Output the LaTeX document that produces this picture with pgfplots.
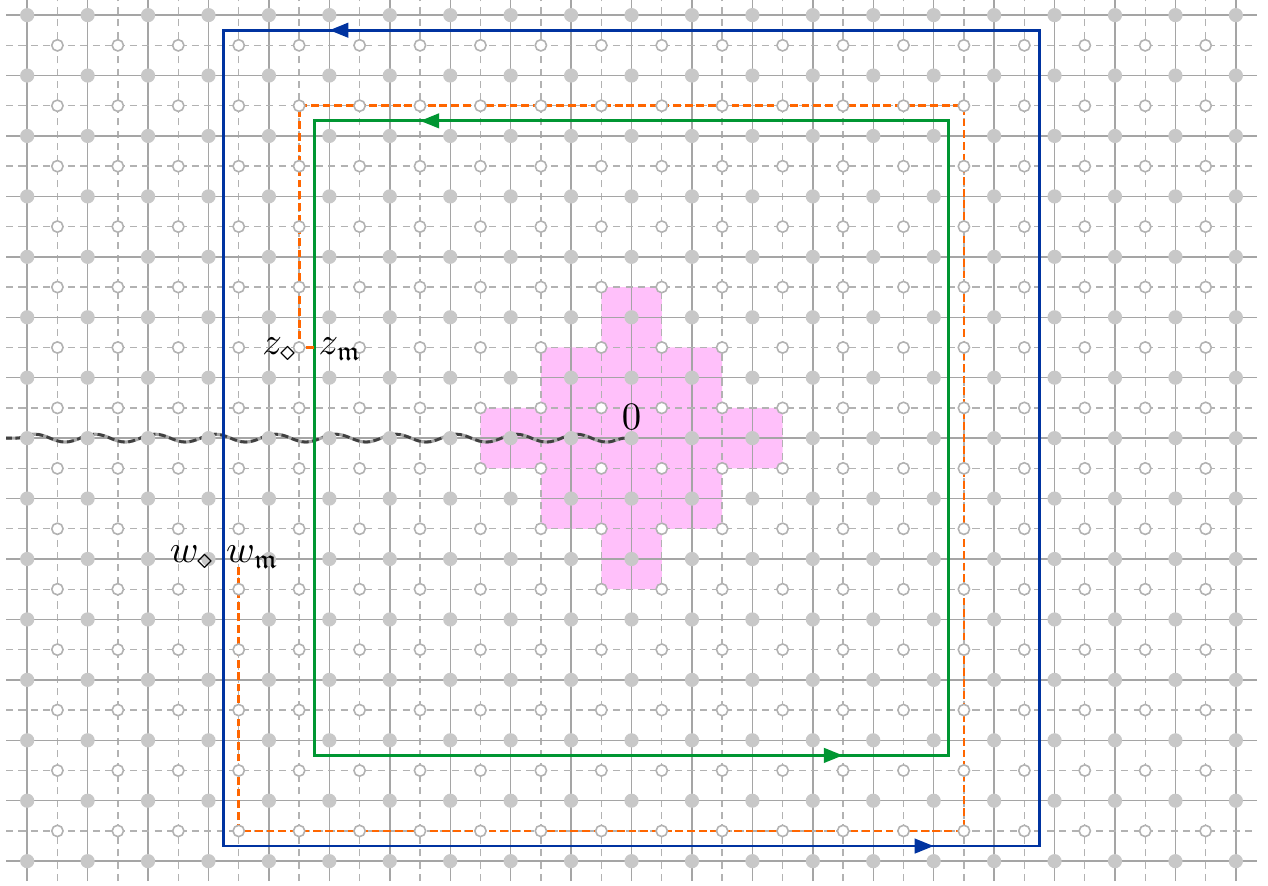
\documentclass[border=0pt]{standalone}
\usepackage{pgfplots}
\usepackage{pgfplotstable}
\usepackage{amssymb}
\pgfplotsset{compat=1.18}
\usetikzlibrary{decorations.pathmorphing,decorations.markings,arrows.meta,calc}
\definecolor{regpink}{RGB}{255 192 250}
\definecolor{pathblue}{RGB}{0 51 160}
\definecolor{pathgreen}{RGB}{0 150 50}
\definecolor{pathorange}{RGB}{255 102 0}
\definecolor{gridsolid}{RGB}{165 165 165}
\definecolor{griddash}{RGB}{178 178 178}
\definecolor{dotfill}{RGB}{200 200 200}
\definecolor{circdraw}{RGB}{178 178 178}

% lattice abscissae (second column unused)
\pgfplotstableread{
x     k
-10   0
-9    0
-8    0
-7    0
-6    0
-5    0
-4    0
-3    0
-2    0
-1    0
0     0
1     0
2     0
3     0
4     0
5     0
6     0
7     0
8     0
9     0
10    0
}\intpts
\pgfplotstableread{
x     k
-9.5  0
-8.5  0
-7.5  0
-6.5  0
-5.5  0
-4.5  0
-3.5  0
-2.5  0
-1.5  0
-0.5  0
0.5   0
1.5   0
2.5   0
3.5   0
4.5   0
5.5   0
6.5   0
7.5   0
8.5   0
9.5   0
}\halfpts

\begin{document}
\begin{tikzpicture}[font=\fontsize{10.8}{13}\selectfont]
\begin{axis}[
    set layers,
    x=0.6cm, y=0.6cm,
    xmin=-10.35, xmax=10.35, ymin=-7.33, ymax=7.25,
    axis line style={draw=none},
    major tick length=0pt, minor tick length=0pt,
    xtick={-10,...,10}, ytick={-7,...,7},
    minor xtick={-9.5,-8.5,...,9.5}, minor ytick={-6.5,-5.5,...,6.5},
    xticklabels={}, yticklabels={},
    grid=both,
    major grid style={gridsolid, line width=0.4pt},
    minor grid style={griddash, line width=0.4pt, dash pattern=on 2pt off 1.5pt},
  ]
  % region |x|+|y| <= 2
  \addplot[on layer=axis background, fill=regpink, draw=none, rounded corners=1.4pt]
    coordinates {(-0.5,2.5) (0.5,2.5) (0.5,1.5) (1.5,1.5) (1.5,0.5) (2.5,0.5)
                 (2.5,-0.5) (1.5,-0.5) (1.5,-1.5) (0.5,-1.5) (0.5,-2.5) (-0.5,-2.5)
                 (-0.5,-1.5) (-1.5,-1.5) (-1.5,-0.5) (-2.5,-0.5) (-2.5,0.5) (-1.5,0.5)
                 (-1.5,1.5) (-0.5,1.5)} -- cycle;

  % branch cut
  \addplot[gray!70, line width=0.9pt, decorate,
           decoration={snake, amplitude=1.1pt, segment length=17pt}]
    coordinates {(-0.1,0) (-10.35,0)};
  \addplot[black!75, line width=0.8pt, dash pattern=on 2pt off 1pt, decorate,
           decoration={snake, amplitude=1.1pt, segment length=17pt}]
    coordinates {(-0.1,0) (-10.35,0)};

  % contours
  \addplot[pathblue, line width=0.8pt, postaction={decorate},
           decoration={markings,
             mark=at position 0.2176 with {\arrow{Triangle[length=5.4pt,width=4.1pt]}},
             mark=at position 0.7176 with {\arrow{Triangle[length=5.4pt,width=4.1pt]}}}]
    coordinates {(-6.75,-6.75) (6.75,-6.75) (6.75,6.75) (-6.75,6.75)} -- cycle;
  \addplot[pathgreen, line width=0.8pt, postaction={decorate},
           decoration={markings,
             mark=at position 0.2083 with {\arrow{Triangle[length=5.4pt,width=4.1pt]}},
             mark=at position 0.7083 with {\arrow{Triangle[length=5.4pt,width=4.1pt]}}}]
    coordinates {(-5.25,-5.25) (5.25,-5.25) (5.25,5.25) (-5.25,5.25)} -- cycle;
  \addplot[pathorange, line width=0.8pt, dash pattern=on 2.2pt off 1.1pt]
    coordinates {(-5.25,1.5) (-5.5,1.5) (-5.5,5.5) (5.5,5.5) (5.5,-6.5) (-6.5,-6.5) (-6.5,-2.08)};

  % lattice points
  \pgfplotsinvokeforeach{-7,...,7}{
    \addplot[only marks, mark=*, mark size=1.8pt, dotfill, mark options={fill=dotfill, draw=dotfill}]
      table[x=x, y expr=#1] {\intpts};
  }
  \pgfplotsinvokeforeach{-6.5,-5.5,...,6.5}{
    \addplot[only marks, mark=*, mark size=1.6pt, circdraw, mark options={fill=white, draw=circdraw, line width=0.45pt}]
      table[x=x, y expr=#1] {\halfpts};
  }

  \begin{pgfonlayer}{axis foreground}
  \node[anchor=base, inner sep=0pt] at (axis cs:0,0.14) {$0$};
  \node[anchor=base east, inner sep=0pt] at (axis cs:-5.52,1.38) {$z_\diamond$};
  \node[anchor=base west, inner sep=0pt] at (axis cs:-5.19,1.38) {$z_{\mathfrak{m}}$};
  \node[anchor=base east, inner sep=0pt] at (axis cs:-6.89,-2.06) {$w_\diamond$};
  \node[anchor=base west, inner sep=0pt] at (axis cs:-6.72,-2.06) {$w_{\mathfrak{m}}$};
  \end{pgfonlayer}
\end{axis}
\pgfresetboundingbox
\useasboundingbox ($(current axis.south west)+(-0.06cm,-0.04cm)$) rectangle ($(current axis.north east)+(0.109cm,0cm)$);
\end{tikzpicture}
\end{document}
